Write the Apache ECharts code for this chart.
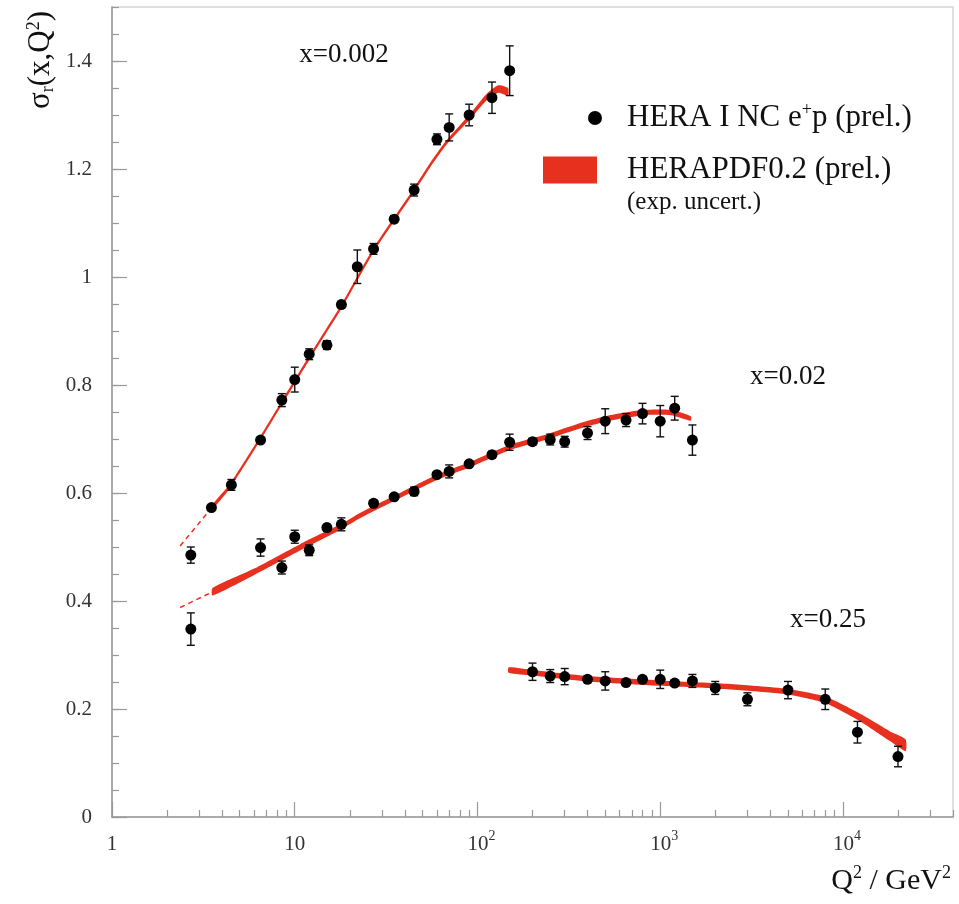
<!DOCTYPE html>
<html>
<head>
<meta charset="utf-8">
<title>HERA I NC e+p reduced cross section</title>
<script src="https://cdn.jsdelivr.net/npm/echarts@6/dist/echarts.min.js"></script>
<style>
  html, body { margin: 0; padding: 0; background: #fff; }
  #main { width: 959px; height: 904px; }
</style>
</head>
<body>
<div id="main"></div>
<script>
// ---- data ----
// x = 0.002
var q2A  = [2.7, 3.5, 4.5, 6.5, 8.5, 10, 12, 15, 18, 22, 27, 35, 45, 60, 70, 90, 120, 150];
var sigA = [0.485, 0.573, 0.615, 0.698, 0.772, 0.810, 0.857, 0.874, 0.949, 1.019, 1.052, 1.107, 1.161, 1.255, 1.277, 1.300, 1.332, 1.382];
var errA = [0.015, 0.005, 0.010, 0.004, 0.012, 0.023, 0.010, 0.008, 0.006, 0.031, 0.010, 0.006, 0.011, 0.010, 0.025, 0.020, 0.029, 0.046];

// x = 0.02
var q2B  = [2.7, 6.5, 8.5, 10, 12, 15, 18, 27, 35, 45, 60, 70, 90, 120, 150, 200, 250, 300, 400, 500, 650, 800, 1000, 1200, 1500];
var sigB = [0.348, 0.499, 0.462, 0.519, 0.494, 0.536, 0.542, 0.581, 0.593, 0.603, 0.634, 0.640, 0.654, 0.671, 0.694, 0.695, 0.699, 0.695, 0.711, 0.733, 0.735, 0.747, 0.733, 0.757, 0.698];
var errB = [0.030, 0.016, 0.012, 0.012, 0.010, 0.006, 0.012, 0.005, 0.005, 0.008, 0.005, 0.012, 0.005, 0.006, 0.015, 0.006, 0.010, 0.010, 0.012, 0.023, 0.012, 0.019, 0.029, 0.022, 0.028];

// x = 0.25
var q2C  = [200, 250, 300, 400, 500, 650, 800, 1000, 1200, 1500, 2000, 3000, 5000, 8000, 12000, 20000];
var sigC = [0.269, 0.261, 0.260, 0.255, 0.252, 0.249, 0.255, 0.255, 0.248, 0.252, 0.239, 0.218, 0.235, 0.218, 0.157, 0.112];
var errC = [0.016, 0.012, 0.015, 0.005, 0.017, 0.005, 0.005, 0.017, 0.005, 0.012, 0.012, 0.012, 0.016, 0.019, 0.020, 0.019];

// HERAPDF0.2 bands: centre and half width
var fitQ2A  = [3.5, 4.4, 6.5, 8.5, 12, 18, 27, 45, 55, 68, 91, 112, 130, 147];
var fitSigA = [0.572, 0.612, 0.702, 0.767, 0.850, 0.945, 1.050, 1.161, 1.207, 1.250, 1.297, 1.333, 1.348, 1.343];
var fitErrA = [0.004, 0.004, 0.004, 0.004, 0.004, 0.004, 0.004, 0.004, 0.004, 0.004, 0.005, 0.006, 0.007, 0.007];

var fitQ2B  = [3.55, 6.0, 11.2, 18, 23, 35, 60, 90, 152, 240, 352, 513, 815, 1140, 1470];
var fitSigB = [0.417, 0.454, 0.503, 0.538, 0.559, 0.590, 0.629, 0.652, 0.685, 0.704, 0.723, 0.738, 0.749, 0.749, 0.738];
var fitErrB = [0.007, 0.006, 0.006, 0.005, 0.005, 0.005, 0.005, 0.005, 0.005, 0.005, 0.005, 0.005, 0.005, 0.005, 0.004];

var fitQ2C  = [148, 200, 400, 1000, 2000, 3500, 5000, 8000, 12000, 15000, 18000, 22000];
var fitSigC = [0.272, 0.267, 0.256, 0.248, 0.243, 0.237, 0.232, 0.217, 0.187, 0.167, 0.150, 0.133];
var fitErrC = [0.005, 0.005, 0.005, 0.005, 0.005, 0.005, 0.005, 0.006, 0.007, 0.008, 0.009, 0.011];

// dotted extrapolation below the fitted range
var extQ2A  = [2.36, 3.5];
var extSigA = [0.502, 0.572];
var extQ2B  = [2.36, 3.55];
var extSigB = [0.388, 0.417];

// axis ticks
var minorQ2 = [2, 3, 4, 5, 6, 7, 8, 9, 20, 30, 40, 50, 60, 70, 80, 90,
               200, 300, 400, 500, 600, 700, 800, 900, 2000, 3000, 4000, 5000, 6000, 7000, 8000, 9000,
               20000, 30000, 40000];
var xLabels = {1: '1', 10: '10', 100: '2', 1000: '3', 10000: '4'};

var RED = '#e8301f';
var FONT = 'Liberation Serif';
var AXIS = '#999';

var chart = echarts.init(document.getElementById('main'));

function pairs(q, s) {
    return q.map(function (v, i) { return [v, s[i]]; });
}

function bars(q, s, e) {
    return q.map(function (v, i) { return [v, s[i] - e[i], s[i] + e[i]]; });
}

function band(q, s, w) {
    return {
        type: 'custom',
        name: 'HERAPDF0.2 (prel.)',
        itemStyle: { color: RED },
        data: bars(q, s, w),
        encode: { x: 0, y: [1, 2] },
        z: 1,
        renderItem: function (params, api) {
            if (params.dataIndex !== 0) return null;
            var up = [], low = [];
            for (var i = 0; i < q.length; i++) {
                up.push(api.coord([q[i], s[i] + w[i]]));
                low.unshift(api.coord([q[i], s[i] - w[i]]));
            }
            return {
                type: 'polygon',
                shape: { points: up.concat(low), smooth: 0.2 },
                style: { fill: RED },
                silent: true
            };
        }
    };
}

function dashed(q, s) {
    return {
        type: 'line',
        name: 'extrapolation',
        data: pairs(q, s),
        symbol: 'none',
        z: 1,
        lineStyle: { color: RED, width: 1.5, type: [5, 4] }
    };
}

var allPoints = pairs(q2A, sigA).concat(pairs(q2B, sigB), pairs(q2C, sigC));
var allBars = bars(q2A, sigA, errA).concat(bars(q2B, sigB, errB), bars(q2C, sigC, errC));

var option = {
    animation: false,
    backgroundColor: '#fff',
    textStyle: { fontFamily: FONT },
    grid: { left: 112, top: 7, right: 6, bottom: 87, show: true, borderColor: '#d6d6d6', borderWidth: 1.5 },
    legend: [{
        data: [{ name: 'HERA I NC e+p (prel.)', icon: 'circle' }],
        left: 588, top: 101, padding: 0,
        itemWidth: 14, itemHeight: 14,
        selectedMode: false,
        formatter: function () { return '{t|HERA I NC e}{s|+}{t|p (prel.)}'; },
        textStyle: {
            padding: [0, 0, 0, 20],
            rich: {
                t: { fontFamily: FONT, fontSize: 31, lineHeight: 34, color: '#111' },
                s: { fontFamily: FONT, fontSize: 18, lineHeight: 18, verticalAlign: 'top', color: '#111' }
            }
        }
    }, {
        data: [{ name: 'HERAPDF0.2 (prel.)', icon: 'rect', itemStyle: { color: RED } }],
        left: 543, top: 153, padding: 0,
        itemWidth: 54, itemHeight: 27,
        selectedMode: false,
        textStyle: {
            padding: [0, 0, 0, 25],
            fontFamily: FONT, fontSize: 31, lineHeight: 34, color: '#111'
        }
    }],
    xAxis: [{
        type: 'log', logBase: 10, min: 1, max: 40000,
        axisLine: { lineStyle: { color: AXIS, width: 1.5 } },
        axisTick: { inside: true, length: 15, lineStyle: { color: AXIS, width: 1.2 } },
        axisLabel: {
            margin: 12,
            showMaxLabel: false,
            formatter: function (v) {
                var key = Math.round(v);
                if (key < 100) return '{n|' + xLabels[key] + '}';
                return '{p|10}{s|' + xLabels[key] + '}';
            },
            rich: {
                n: { fontFamily: FONT, fontSize: 21, lineHeight: 30, color: '#333' },
                p: { fontFamily: FONT, fontSize: 21, lineHeight: 30, color: '#333', padding: [0, 0, 0, 8] },
                s: { fontFamily: FONT, fontSize: 14, lineHeight: 14, verticalAlign: 'top', color: '#333' }
            }
        },
        splitLine: { show: false }
    }, {
        type: 'log', logBase: 10, min: 1, max: 40000, position: 'bottom',
        axisLine: { show: false },
        axisTick: { inside: true, length: 7, customValues: minorQ2, lineStyle: { color: AXIS, width: 1.2 } },
        axisLabel: { show: false },
        splitLine: { show: false }
    }],
    yAxis: [{
        type: 'value', min: 0, max: 1.5, interval: 0.2,
        axisLine: { show: true, lineStyle: { color: AXIS, width: 1.5 } },
        axisTick: { show: true, inside: true, length: 15, lineStyle: { color: AXIS, width: 1.2 } },
        axisLabel: { margin: 20, showMaxLabel: false, fontFamily: FONT, fontSize: 21, color: '#333' },
        splitLine: { show: false }
    }, {
        type: 'value', min: 0, max: 1.5, interval: 0.05, position: 'left',
        axisLine: { show: false },
        axisTick: { show: true, inside: true, length: 7, lineStyle: { color: AXIS, width: 1.2 } },
        axisLabel: { show: false },
        splitLine: { show: false }
    }],
    graphic: [
        {
            type: 'text', x: 41, y: 60, rotation: Math.PI / 2,
            style: {
                text: '{a|σ}{b|r}{a|(x,Q}{c|2}{a|)}',
                align: 'center', verticalAlign: 'middle',
                rich: {
                    a: { fontFamily: FONT, fontSize: 31, lineHeight: 32, fill: '#111' },
                    b: { fontFamily: FONT, fontSize: 18, lineHeight: 18, verticalAlign: 'bottom', fill: '#111' },
                    c: { fontFamily: FONT, fontSize: 18, lineHeight: 18, verticalAlign: 'top', fill: '#111' }
                }
            }
        },
        {
            type: 'text', right: 8, top: 864,
            style: {
                text: '{a|Q}{c|2}{a| / GeV}{c|2}',
                rich: {
                    a: { fontFamily: FONT, fontSize: 30, lineHeight: 34, fill: '#111' },
                    c: { fontFamily: FONT, fontSize: 18, lineHeight: 18, verticalAlign: 'top', fill: '#111' }
                }
            }
        },
        { type: 'text', x: 344, y: 55, style: { text: 'x=0.002', font: '27px "Liberation Serif"', fill: '#111', align: 'center', verticalAlign: 'middle' } },
        { type: 'text', x: 788, y: 377, style: { text: 'x=0.02', font: '27px "Liberation Serif"', fill: '#111', align: 'center', verticalAlign: 'middle' } },
        { type: 'text', x: 828, y: 620, style: { text: 'x=0.25', font: '27px "Liberation Serif"', fill: '#111', align: 'center', verticalAlign: 'middle' } },
        { type: 'text', x: 627, y: 202, style: { text: '(exp. uncert.)', font: '25px "Liberation Serif"', fill: '#111', align: 'left', verticalAlign: 'middle' } }
    ],
    series: [
        band(fitQ2A, fitSigA, fitErrA),
        band(fitQ2B, fitSigB, fitErrB),
        band(fitQ2C, fitSigC, fitErrC),
        dashed(extQ2A, extSigA),
        dashed(extQ2B, extSigB),
        {
            type: 'custom',
            name: 'errors',
            data: allBars,
            encode: { x: 0, y: [1, 2] },
            z: 3,
            renderItem: function (params, api) {
                var lo = api.coord([api.value(0), api.value(1)]);
                var hi = api.coord([api.value(0), api.value(2)]);
                var cap = 4;
                var st = { stroke: '#111', lineWidth: 1.4 };
                return {
                    type: 'group',
                    children: [
                        { type: 'line', shape: { x1: lo[0], y1: lo[1], x2: hi[0], y2: hi[1] }, style: st },
                        { type: 'line', shape: { x1: lo[0] - cap, y1: lo[1], x2: lo[0] + cap, y2: lo[1] }, style: st },
                        { type: 'line', shape: { x1: hi[0] - cap, y1: hi[1], x2: hi[0] + cap, y2: hi[1] }, style: st }
                    ]
                };
            }
        },
        {
            type: 'scatter',
            name: 'HERA I NC e+p (prel.)',
            data: allPoints,
            symbol: 'circle',
            symbolSize: 11,
            z: 4,
            itemStyle: { color: '#000', opacity: 1 }
        }
    ]
};

chart.setOption(option);
</script>
</body>
</html>
